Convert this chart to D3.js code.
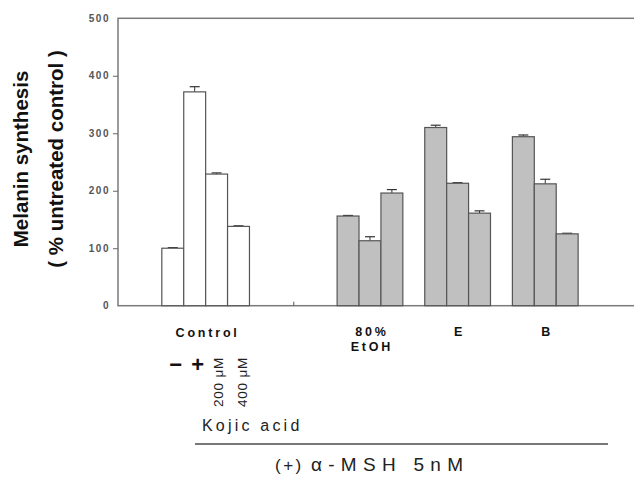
<!DOCTYPE html>
<html>
<head>
<meta charset="utf-8">
<script src="https://cdn.jsdelivr.net/npm/d3@7"></script>
<style>
  body { margin: 0; background: #fff; }
  svg { display: block; font-family: Arial, "Liberation Sans", sans-serif; }
</style>
</head>
<body>
<svg id="chart" width="634" height="477"></svg>
<script>
// values (% of untreated control)
var groups = ["Control", "80% EtOH", "E", "B"];
var controlVals = [100, 372, 229, 138];
var controlErr = [1, 9, 2, 1];
var etohVals = [156, 113, 196];
var etohErr = [1, 7, 6];
var eVals = [310, 213, 161];
var eErr = [4, 1, 4];
var bVals = [294, 212, 125];
var bErr = [3, 8, 1];
var yTicks = [0, 100, 200, 300, 400, 500];

var seriesVals = [controlVals, etohVals, eVals, bVals];
var seriesErr = [controlErr, etohErr, eErr, bErr];

// flatten into one bar list, slot = position along the x axis in bar widths
var bars = [];
seriesVals.forEach(function(vals, g) {
    var start = g == 0 ? 0 : 4 + 4 * g;
    vals.forEach(function(v, i) {
        bars.push({group: g, slot: start + i, value: v, err: seriesErr[g][i]});
    });
});

var svg = d3.select("#chart");

var x = d3.scaleLinear().domain([-2, 21.55]).range([118, 634]);
var y = d3.scaleLinear().domain([0, 500]).range([305.7, 18.3]);
var bw = x(1) - x(0);

// frame (right side falls outside the picture)
svg.append("rect")
    .attr("x", x(-2)).attr("y", y(500))
    .attr("width", 540).attr("height", y(0) - y(500))
    .style("fill", "none").style("stroke", "#7a7a7a").style("stroke-width", "1.5px");

var yAxis = d3.axisLeft(y).tickValues(yTicks).tickSize(5).tickPadding(3);
var gy = svg.append("g")
    .attr("transform", "translate(" + x(-2) + ",0)")
    .call(yAxis);
gy.select(".domain").remove();
gy.selectAll("line").style("stroke", "#666");
gy.selectAll("text")
    .style("font-size", "10px").style("font-weight", "bold")
    .style("letter-spacing", "1.5px").style("fill", "#555");
gy.selectAll(".tick").filter(function(d) { return d == 0 || d == 500; }).select("line").remove();

// small inward tick on the x axis between control and samples
var xAxis = d3.axisBottom(x).tickValues([6]).tickSize(-4).tickFormat("");
var gx = svg.append("g")
    .attr("transform", "translate(0," + y(0) + ")")
    .call(xAxis);
gx.select(".domain").remove();
gx.selectAll("line").style("stroke", "#555");

// error bars (drawn first so bar top covers the lower half)
var eb = svg.append("g");
bars.forEach(function(d) {
    var cx = x(d.slot) + bw / 2;
    eb.append("line")
        .attr("x1", cx).attr("x2", cx)
        .attr("y1", y(d.value)).attr("y2", y(d.value + d.err))
        .style("stroke", "#333").style("stroke-width", "1px");
    eb.append("line")
        .attr("x1", cx - 5).attr("x2", cx + 5)
        .attr("y1", y(d.value + d.err)).attr("y2", y(d.value + d.err))
        .style("stroke", "#333").style("stroke-width", "1.2px");
});

svg.append("g").selectAll("rect")
    .data(bars)
    .enter()
    .append("rect")
    .attr("x", function(d) { return x(d.slot); })
    .attr("y", function(d) { return y(d.value); })
    .attr("width", bw)
    .attr("height", function(d) { return y(0) - y(d.value); })
    .style("fill", function(d) { return d.group == 0 ? "#ffffff" : "#c0c0c0"; })
    .style("stroke", "#555").style("stroke-width", "1.2px");

// y title
var yt = svg.append("text")
    .attr("transform", "translate(0,159) rotate(-90)")
    .style("text-anchor", "middle").style("font-weight", "bold")
    .style("font-size", "20.5px").style("fill", "#111");
yt.append("tspan").attr("x", 0).attr("y", 28).text("Melanin synthesis");
yt.append("tspan").attr("x", 0).attr("y", 63).text("( % untreated control )");

// group labels
groups.forEach(function(name, g) {
    var n = seriesVals[g].length;
    var start = g == 0 ? 0 : 4 + 4 * g;
    var cx = x(start + n / 2);
    var parts = name.split(" ");
    var t = svg.append("text")
        .style("text-anchor", "middle").style("font-weight", "bold")
        .style("font-size", "12.5px").style("letter-spacing", "2.8px")
        .style("fill", "#111");
    parts.forEach(function(p, k) {
        t.append("tspan").attr("x", cx + 2).attr("y", (g == 0 ? 337 : 335.5) + k * 15).text(p);
    });
});

// kojic acid treatment labels under the control bars
var signs = ["\u2212", "+"];
signs.forEach(function(s, i) {
    svg.append("text")
        .attr("x", x(i) + bw / 2 + 3).attr("y", 372)
        .style("text-anchor", "middle").style("font-weight", "bold")
        .style("font-size", "22px").style("fill", "#111")
        .text(s);
});
var doses = ["200 \u03bcM", "400 \u03bcM"];
doses.forEach(function(s, i) {
    svg.append("text")
        .attr("transform", "translate(" + (x(i + 2) + bw / 2 + 2 + i * 2) + ",382) rotate(-90)")
        .attr("dy", "0.35em")
        .style("text-anchor", "middle").style("font-size", "13.5px")
        .style("letter-spacing", "0.8px").style("fill", "#222")
        .text(s);
});

svg.append("text")
    .attr("x", 202).attr("y", 431)
    .style("font-size", "16px").style("letter-spacing", "3.2px").style("fill", "#222")
    .text("Kojic acid");

svg.append("line")
    .attr("x1", 195).attr("x2", 608)
    .attr("y1", 444).attr("y2", 444)
    .style("stroke", "#777").style("stroke-width", "2px");

svg.append("text")
    .attr("x", 275).attr("y", 471)
    .style("font-size", "17px").style("letter-spacing", "2.5px").style("fill", "#222")
    .text("(+)");
svg.append("text")
    .attr("x", 311).attr("y", 471)
    .attr("textLength", 152).attr("lengthAdjust", "spacing")
    .style("font-size", "19px").style("fill", "#222")
    .text("\u03b1-MSH 5nM");
</script>
</body>
</html>
